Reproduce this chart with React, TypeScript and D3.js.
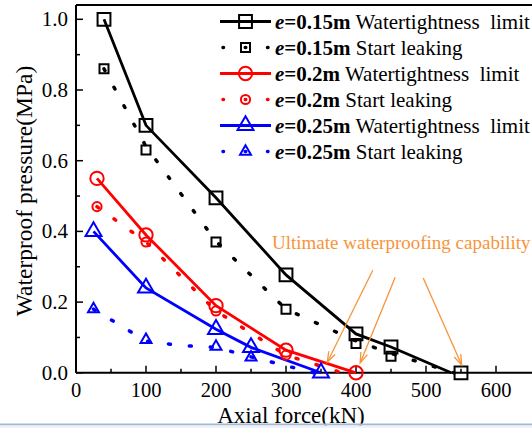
import * as d3 from 'd3';
import React from 'react';

// x = axial force (kN), y = waterproof pressure (MPa)
const blackLimitX = [40, 100, 200, 300, 400, 450, 550];
const blackLimitY = [1.0, 0.7, 0.495, 0.277, 0.11, 0.073, 0.0];
const blackLimitLineX = [40, 100, 200, 300, 400, 450, 536];
const blackLimitLineY = [1.0, 0.7, 0.495, 0.277, 0.11, 0.073, 0.0];

const blackLeakX = [40, 100, 200, 300, 400, 450];
const blackLeakY = [0.86, 0.63, 0.37, 0.18, 0.083, 0.047];
const blackLeakLineX = [40, 100, 200, 300, 400, 450, 540];
const blackLeakLineY = [0.86, 0.64, 0.372, 0.18, 0.09, 0.055, 0.0];

const redLimitX = [30, 100, 200, 300, 400];
const redLimitY = [0.55, 0.39, 0.19, 0.064, 0.0];

const redLeakX = [30, 100, 200, 300];
const redLeakY = [0.47, 0.37, 0.175, 0.05];
const redLeakLineX = [30, 100, 200, 300, 380];
const redLeakLineY = [0.47, 0.37, 0.175, 0.05, 0.0];

const blueLimitX = [25, 100, 200, 250, 350];
const blueLimitY = [0.4, 0.24, 0.123, 0.072, 0.0];

const blueLeakX = [25, 100, 200, 250];
const blueLeakY = [0.18, 0.093, 0.074, 0.044];
const blueLeakLineX = [25, 100, 150, 200, 250, 300, 340];
const blueLeakLineY = [0.18, 0.09, 0.077, 0.072, 0.045, 0.02, 0.0];

const legendLabels = [
  ['0.15m', ' Watertightness  limit'],
  ['0.15m', ' Start leaking'],
  ['0.2m', ' Watertightness  limit'],
  ['0.2m', ' Start leaking'],
  ['0.25m', ' Watertightness  limit'],
  ['0.25m', ' Start leaking'],
];

// annotation arrows: from / to in data units
const arrowFromX = [424, 456, 496];
const arrowFromY = [0.29, 0.27, 0.268];
const arrowToX = [359, 406, 551];
const arrowToY = [0.03, 0.028, 0.022];

const xTicks = [0, 100, 200, 300, 400, 500, 600];
const yTicks = [0, 0.2, 0.4, 0.6, 0.8, 1.0];

const FONT = '"Liberation Serif", "Times New Roman", serif';
const ORANGE = '#f7943a';

type Shape = 'square' | 'circle' | 'triangle';

const series = [
  { color: '#000', shape: 'square' as Shape, dotted: false, mx: blackLimitX, my: blackLimitY, lx: blackLimitLineX, ly: blackLimitLineY },
  { color: '#000', shape: 'square' as Shape, dotted: true, mx: blackLeakX, my: blackLeakY, lx: blackLeakLineX, ly: blackLeakLineY },
  { color: '#ff0000', shape: 'circle' as Shape, dotted: false, mx: redLimitX, my: redLimitY, lx: redLimitX, ly: redLimitY },
  { color: '#ff0000', shape: 'circle' as Shape, dotted: true, mx: redLeakX, my: redLeakY, lx: redLeakLineX, ly: redLeakLineY },
  { color: '#0000ff', shape: 'triangle' as Shape, dotted: false, mx: blueLimitX, my: blueLimitY, lx: blueLimitX, ly: blueLimitY },
  { color: '#0000ff', shape: 'triangle' as Shape, dotted: true, mx: blueLeakX, my: blueLeakY, lx: blueLeakLineX, ly: blueLeakLineY },
];

const symbolPath = (shape: Shape, small: boolean) => {
  const type = shape === 'square' ? d3.symbolSquare : shape === 'circle' ? d3.symbolCircle : d3.symbolTriangle;
  const size = shape === 'square' ? (small ? 81 : 165) : shape === 'circle' ? (small ? 66 : 140) : (small ? 52 : 110);
  return d3.symbol().type(type).size(size)() || '';
};

const App: React.FC = () => {
  const width = 532;
  const height = 428;
  const left = 76;
  const bottom = 372.8;
  const top = 5;

  const x = d3.scaleLinear().domain([0, 650]).range([left, left + 0.7 * 650]);
  const y = d3.scaleLinear().domain([0, 1.0]).range([bottom, 19.3]);

  const line = d3.line<[number, number]>().x(d => x(d[0])).y(d => y(d[1]));

  const minorX = d3.range(50, 650, 100);
  const minorY = d3.range(0.1, 1.0, 0.2);

  return (
    <svg width={width} height={height} style={{ position: 'absolute', left: 0, top: 0, background: '#fff' }}>
      <rect x={0} y={0} width={width} height={height} fill="#fff" />

      {/* frame */}
      <line x1={left} x2={width} y1={top} y2={top} stroke="#000" strokeWidth={1.8} />
      <line x1={left} x2={left} y1={top} y2={bottom} stroke="#000" strokeWidth={2} />
      <line x1={left} x2={width} y1={bottom} y2={bottom} stroke="#000" strokeWidth={2} />

      {/* ticks */}
      {xTicks.map(t => (
        <g key={'xt' + t}>
          <line x1={x(t)} x2={x(t)} y1={bottom} y2={bottom - 7} stroke="#000" strokeWidth={1.5} />
          <text x={x(t)} y={397} textAnchor="middle" fontFamily={FONT} fontSize={20.5}>{t}</text>
        </g>
      ))}
      {minorX.map(t => (
        <line key={'xm' + t} x1={x(t)} x2={x(t)} y1={bottom} y2={bottom - 4} stroke="#000" strokeWidth={1.5} />
      ))}
      {yTicks.map(t => (
        <g key={'yt' + t}>
          <line x1={left} x2={left + 7} y1={y(t)} y2={y(t)} stroke="#000" strokeWidth={1.5} />
          <text x={68} y={y(t) + 7} textAnchor="end" fontFamily={FONT} fontSize={21}>{t.toFixed(1)}</text>
        </g>
      ))}
      {minorY.map(t => (
        <line key={'ym' + t} x1={left} x2={left + 4} y1={y(t)} y2={y(t)} stroke="#000" strokeWidth={1.5} />
      ))}

      {/* axis titles */}
      <text x={291} y={423} textAnchor="middle" fontFamily={FONT} fontSize={23}>Axial force(kN)</text>
      <text transform="translate(32,191) rotate(-90)" textAnchor="middle" fontFamily={FONT} fontSize={23.5}>
        Waterproof pressure(MPa)
      </text>

      {/* series lines */}
      {series.map((s, i) => (
        <path
          key={'l' + i}
          d={line(s.lx.map((v, j) => [v, s.ly[j]] as [number, number])) || ''}
          fill="none"
          stroke={s.color}
          strokeWidth={s.dotted ? 3.5 : 2.8}
          strokeDasharray={s.dotted ? '2 19' : undefined}
          strokeLinecap={s.dotted ? 'round' : 'butt'}
        />
      ))}

      {/* markers */}
      {series.map((s, i) => (
        <g key={'m' + i}>
          {s.mx.map((v, j) => (
            <path
              key={j}
              d={symbolPath(s.shape, s.dotted)}
              transform={`translate(${x(v)},${y(s.my[j])})`}
              fill="none"
              stroke={s.color}
              strokeWidth={2}
            />
          ))}
        </g>
      ))}

      {/* annotation */}
      <text x={272} y={249} fontFamily={FONT} fontSize={19} fill={ORANGE}>Ultimate waterproofing capability</text>
      {arrowFromX.map((fx, i) => {
        const x1 = x(fx), y1 = y(arrowFromY[i]);
        const x2 = x(arrowToX[i]), y2 = y(arrowToY[i]);
        const ang = Math.atan2(y2 - y1, x2 - x1);
        const hl = 11, ha = 0.33;
        const h1 = [x2 - hl * Math.cos(ang - ha), y2 - hl * Math.sin(ang - ha)];
        const h2 = [x2 - hl * Math.cos(ang + ha), y2 - hl * Math.sin(ang + ha)];
        return (
          <g key={'a' + i} stroke={ORANGE} strokeWidth={1.3} fill="none">
            <line x1={x1} y1={y1} x2={x2} y2={y2} />
            <polyline points={`${h1[0]},${h1[1]} ${x2},${y2} ${h2[0]},${h2[1]}`} />
          </g>
        );
      })}

      {/* legend */}
      {series.map((s, i) => {
        const cy = 21.5 + i * 26;
        return (
          <g key={'lg' + i}>
            {s.dotted ? (
              <line x1={223} x2={268} y1={cy} y2={cy} stroke={s.color} strokeWidth={3.5}
                strokeDasharray="0.5 21.75" strokeLinecap="round" />
            ) : (
              <line x1={220} x2={271} y1={cy} y2={cy} stroke={s.color} strokeWidth={2.8} />
            )}
            <path d={symbolPath(s.shape, s.dotted)} transform={`translate(245.5,${cy})`}
              fill="none" stroke={s.color} strokeWidth={2} />
            <text x={275} y={cy + 7} fontFamily={FONT} fontSize={21} style={{ whiteSpace: 'pre' }}>
              <tspan fontStyle="italic" fontWeight="bold">e</tspan>
              <tspan fontWeight="bold">={legendLabels[i][0]}</tspan>
              <tspan>{legendLabels[i][1]}</tspan>
            </text>
          </g>
        );
      })}

      {/* slide edge below the figure */}
      <rect x={0} y={423.5} width={width} height={2} fill="#a3b9d5" />
      <rect x={0} y={425.5} width={width} height={2.5} fill="#eef2f7" />
    </svg>
  );
};

export default App;
